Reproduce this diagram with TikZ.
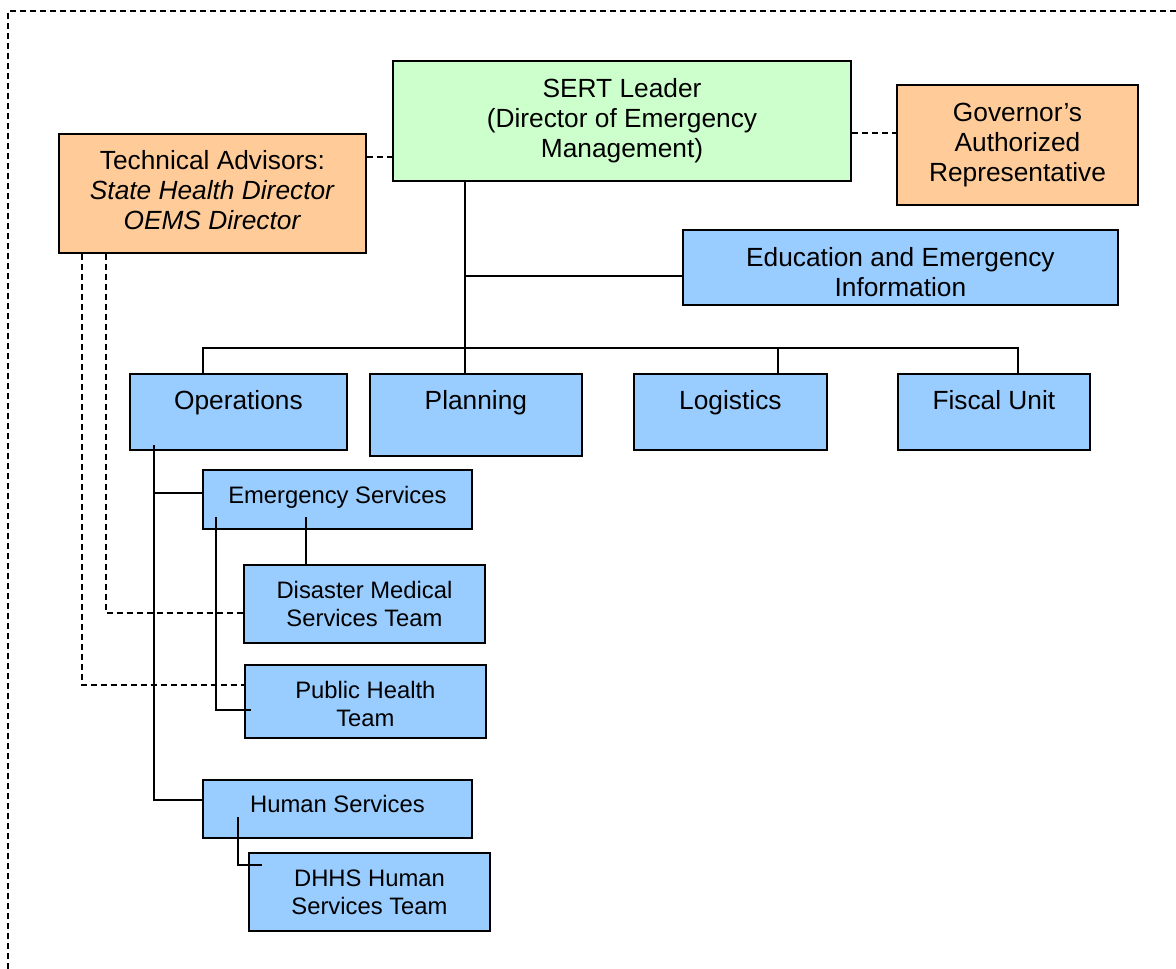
\documentclass[tikz,border=0pt]{standalone}
\usepackage{fontspec}
\setmainfont{Liberation Sans}
\definecolor{unitblue}{HTML}{99CCFF}
\definecolor{leadgreen}{HTML}{CCFFCC}
\definecolor{advorange}{HTML}{FFCC99}
\begin{document}
\begin{tikzpicture}[x=1pt,y=-1pt,
  box/.style={draw=black, line width=1.8pt, inner sep=0pt, align=center,
              font=\fontsize{26.3}{30}\selectfont},
  smalltext/.style={font=\fontsize{23.8}{27.8}\selectfont},
  unitbox/.style={box, fill=unitblue},
  leadbox/.style={box, fill=leadgreen},
  advbox/.style={box, fill=advorange},
  conn/.style={line width=1.5pt},
  link/.style={line width=1.4pt, dash pattern=on 6pt off 4pt},
  frame/.style={line width=1.3pt, dash pattern=on 6pt off 4pt}]

\useasboundingbox (0,0) rectangle (1176,969);

% outer frame (top and left edges)
\draw[frame] (1176,11) -- (8,11) -- (8,969);

% top level
\node[leadbox, minimum width=458, minimum height=120] (sert) at (622,121)
  {SERT Leader\\(Director of Emergency\\Management)};
\node[advbox, minimum width=241, minimum height=120] (gov) at (1017.5,145)
  {Governor’s\\Authorized\\Representative};
% text height = distance from the top edge to the last baseline
\node[advbox, anchor=north west, minimum width=307, text height=95.3, text depth=23.7] (ta) at (58,133)
  {Technical Advisors:\\\textit{State Health Director}\\\textit{OEMS Director}};
\node[unitbox, anchor=north west, minimum width=435, text height=66.3, text depth=8.7] (edu) at (682,229)
  {Education and Emergency\\Information};

% sections
\node[unitbox, anchor=north west, minimum width=217, text height=35.5, text depth=40.5] (ops) at (129,373) {Operations};
\node[unitbox, anchor=north west, minimum width=212, text height=35.5, text depth=46.5] (plan) at (369,373) {Planning};
\node[unitbox, anchor=north west, minimum width=193, text height=35.5, text depth=40.5] (log) at (633,373) {Logistics};
\node[unitbox, anchor=north west, minimum width=192, text height=35.5, text depth=40.5] (fis) at (897,373) {Fiscal Unit};

% operations branches
\node[unitbox, smalltext, anchor=north west, minimum width=269, text height=33.5, text depth=25.5] (es) at (202,469) {Emergency Services};
\node[unitbox, smalltext, minimum width=241, minimum height=78] (dms) at (364.5,604)
  {Disaster Medical\\Services Team};
\node[unitbox, smalltext, anchor=north west, minimum width=241, text height=61.5, text depth=11.5] (ph) at (244,664)
  {Public Health\\Team};
\node[unitbox, smalltext, anchor=north west, minimum width=269, text height=33, text depth=25] (hs) at (202,779) {Human Services};
\node[unitbox, smalltext, minimum width=241, minimum height=78] (dhhs) at (369.5,892)
  {DHHS Human\\Services Team};

% solid reporting lines
\coordinate (hub) at (465,348);
\draw[conn] (hub |- sert.south) -- (hub);
\draw[conn] (hub |- 0,276) -- (edu.west |- 0,276);
\draw[conn] (203,0 |- ops.north) -- (203,348) -- (1018,348) -- (1018,0 |- fis.north);
\draw[conn] (hub) -- (hub |- plan.north);
\draw[conn] (778,348) -- (778,0 |- log.north);

\draw[conn] (154,445) -- (154,800) -- (hs.west |- 0,800);
\draw[conn] (154,493) -- (es.west |- 0,493);
\draw[conn] (216,517) -- (216,710) -- (251,710);
\draw[conn] (306,517) -- (306,0 |- dms.north);
\draw[conn] (238,817) -- (238,865) -- (262,865);

% advisory (dashed) lines
\draw[link] (ta.east |- 0,157) -- (sert.west |- 0,157);
\draw[link] (sert.east |- 0,133) -- (gov.west |- 0,133);
\draw[link] (106,0 |- ta.south) -- (106,613) -- (dms.west |- 0,613);
\draw[link] (82,0 |- ta.south) -- (82,685) -- (ph.west |- 0,685);
\end{tikzpicture}
\end{document}
